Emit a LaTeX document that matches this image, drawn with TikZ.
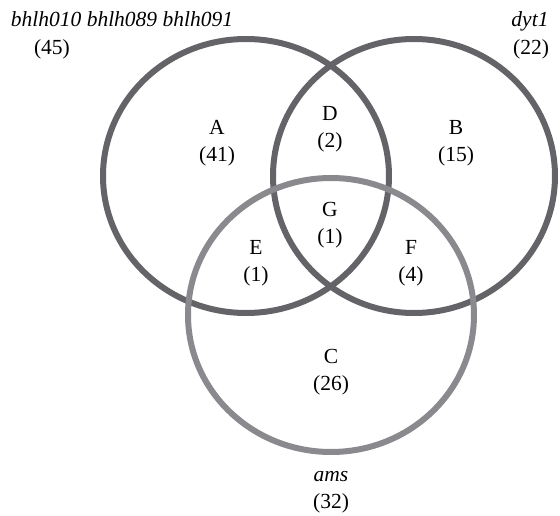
\documentclass[tikz,border=0pt]{standalone}
\usepackage{fontspec}
\setmainfont{Liberation Serif}
\definecolor{ringdark}{RGB}{100,100,104}
\definecolor{ringlight}{RGB}{138,138,142}
\begin{document}
\begin{tikzpicture}[x=1pt,y=-1pt]
\tikzstyle{ring} = [line width=6pt]
\tikzstyle{region} = [align=center,inner sep=0pt,font=\fontsize{21.5}{27}\selectfont]
\tikzstyle{setname} = [anchor=base,inner sep=0pt,font=\fontsize{21.5}{24}\selectfont\itshape]
\tikzstyle{setcount} = [anchor=base,inner sep=0pt,font=\fontsize{21.5}{24}\selectfont]

\useasboundingbox (0,0) rectangle (560,516);

% the three sets
\draw[ring,ringdark] (246,176) ellipse [x radius=143pt, y radius=137pt];
\draw[ring,ringdark] (414,176) ellipse [x radius=141pt, y radius=137pt];
\draw[ring,ringlight] (331,315) ellipse [x radius=143pt, y radius=137pt];

% set names and sizes
\node[setname] (nameA) at (122,27) {bhlh010 bhlh089 bhlh091};
\node[setcount] (countA) at (52,55) {(45)};
\node[setname] (nameB) at (530,27) {dyt1};
\node[setcount] (countB) at (531,55) {(22)};
\node[setname] (nameC) at (331,481) {ams};
\node[setcount] (countC) at (331,508) {(32)};

% regions
\node[region] (A) at (217,143) {A\\(41)};
\node[region] (D) at (330,129) {D\\(2)};
\node[region] (B) at (456,143) {B\\(15)};
\node[region] (G) at (330,225) {G\\(1)};
\node[region] (E) at (256,263) {E\\(1)};
\node[region] (F) at (411,263) {F\\(4)};
\node[region] (C) at (331,372) {C\\(26)};

\end{tikzpicture}
\end{document}
